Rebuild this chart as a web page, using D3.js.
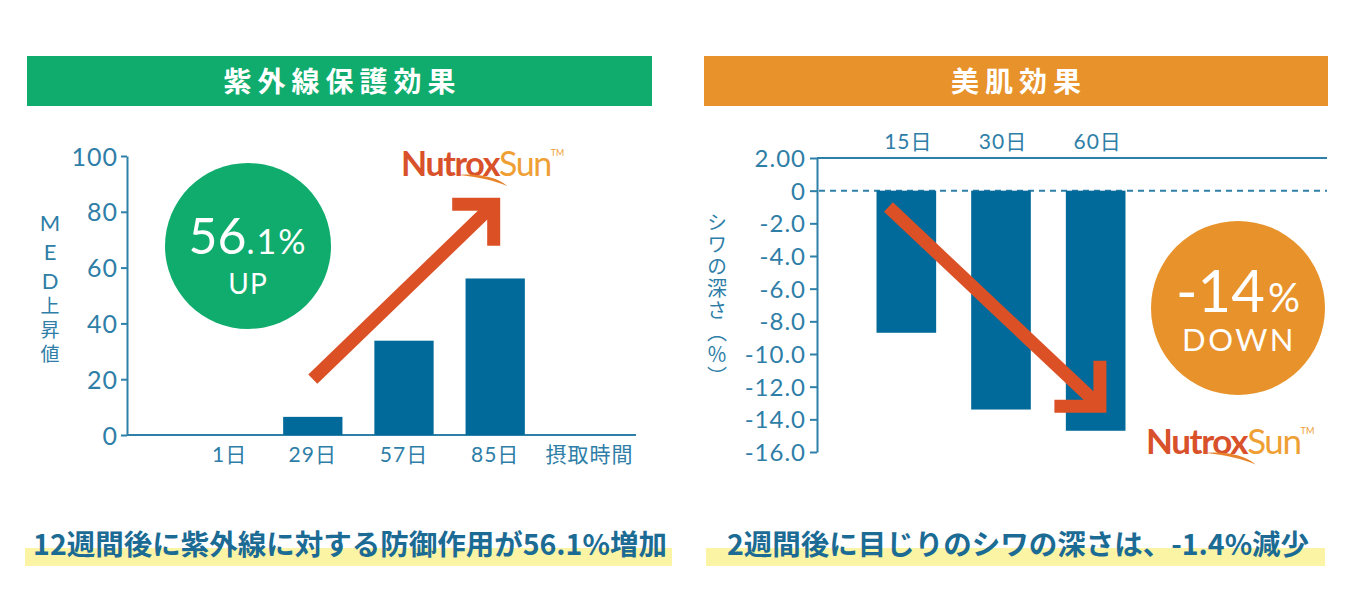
<!DOCTYPE html>
<html><head><meta charset="utf-8">
<script src="https://cdn.jsdelivr.net/npm/d3@7"></script>
<style>
html,body{margin:0;padding:0;background:#fff;}
svg{display:block;}
</style></head>
<body>
<svg id="c" width="1352" height="598"></svg>
<script>
// ---------- data ----------
const leftCategories = ["1日", "29日", "57日", "85日", "摂取時間"];
const leftDays = ["1日", "29日", "57日", "85日"];
const leftValues = [0, 6.5, 33.8, 56.1];
const leftTicks = [0, 20, 40, 60, 80, 100];
const leftTitle = "紫外線保護効果";
const leftAxisLabelLatin = "MED";
const leftAxisLabelJp = "上昇値";
const leftCaption = "12週間後に紫外線に対する防御作用が56.1%増加";

const rightCategories = ["15日", "30日", "60日"];
const rightValues = [-8.7, -13.4, -14.7];
const rightTicks = [2, 0, -2, -4, -6, -8, -10, -12, -14, -16];
const rightTickLabels = ["2.00", "0", "-2.0", "-4.0", "-6.0", "-8.0", "-10.0", "-12.0", "-14.0", "-16.0"];
const rightTitle = "美肌効果";
const rightAxisLabel = "シワの深さ（％）";
const rightCaption = "2週間後に目じりのシワの深さは、-1.4%減少";

// ---------- style ----------
const GREEN = "#10ac6d", ORANGE = "#e8922b", BAR = "#016a9a", AXIS = "#2f80a8",
      TXT = "#2e7ea7", ARROW = "#dc5026", CAP = "#1b6b94", HL = "#fbf4a4";
const NUMFONT = "Lato, 'Noto Sans', sans-serif";
const JPFONT = "'Noto Sans CJK JP', sans-serif";
const MIXFONT = "Lato, 'Noto Sans CJK JP', sans-serif";

const svg = d3.select("#c");

// ---------- headers ----------
function header(x0, x1, color, title) {
  svg.append("rect").attr("x", x0).attr("y", 56).attr("width", x1 - x0).attr("height", 50)
    .attr("fill", color);
  svg.append("text").attr("x", (x0 + x1) / 2 + 3).attr("y", 92).attr("text-anchor", "middle")
    .attr("fill", "#fff").attr("font-family", JPFONT).attr("font-weight", 700)
    .attr("font-size", 28).attr("letter-spacing", 6).text(title);
}
header(27, 652, GREEN, leftTitle);
header(704, 1328, ORANGE, rightTitle);

// ---------- captions ----------
function caption(x0, x1, cx, text, size) {
  svg.append("rect").attr("x", x0).attr("y", 548).attr("width", x1 - x0).attr("height", 18).attr("fill", HL);
  svg.append("text").attr("x", cx).attr("y", 555).attr("text-anchor", "middle")
    .attr("fill", CAP).attr("font-family", JPFONT).attr("font-weight", 700)
    .attr("font-size", size).text(text);
}
caption(25, 672, 350, leftCaption, 28.5);
caption(706, 1325, 1018, rightCaption, 28.5);

// ---------- arrow helper ----------
function upArrow(g, tail, tip, arm, w) {
  const c = [tip[0] - w / 2, tip[1] + w / 2];
  g.append("path").attr("d", `M${tail[0]},${tail[1]}L${c[0]},${c[1]}`)
    .attr("stroke", ARROW).attr("stroke-width", w).attr("fill", "none");
  g.append("path").attr("d", `M${tip[0] - arm},${c[1]}L${c[0]},${c[1]}L${c[0]},${tip[1] + arm}`)
    .attr("stroke", ARROW).attr("stroke-width", w).attr("fill", "none").attr("stroke-linejoin", "miter");
}
function downArrow(g, tail, tip, arm, w) {
  const c = [tip[0] - w / 2, tip[1] - w / 2];
  g.append("path").attr("d", `M${tail[0]},${tail[1]}L${c[0]},${c[1]}`)
    .attr("stroke", ARROW).attr("stroke-width", w).attr("fill", "none");
  g.append("path").attr("d", `M${tip[0] - arm},${c[1]}L${c[0]},${c[1]}L${c[0]},${tip[1] - arm}`)
    .attr("stroke", ARROW).attr("stroke-width", w).attr("fill", "none").attr("stroke-linejoin", "miter");
}

// ---------- logo ----------
function logo(x, y, size) {
  const g = svg.append("g").attr("transform", `translate(${x},${y})`);
  const t = g.append("text").attr("font-family", "Lato, 'Liberation Sans', sans-serif")
    .attr("font-size", size).attr("letter-spacing", -1.4);
  t.append("tspan").attr("fill", "#d8512a").attr("font-weight", 700).text("Nutrox");
  t.append("tspan").attr("fill", "#efa035").attr("font-weight", 400).text("Sun");
  t.append("tspan").attr("fill", "#efa035").attr("font-size", size * 0.26).attr("dy", -size * 0.58)
    .attr("letter-spacing", 0).text("TM");
  const s = size / 30;
  g.append("path")
    .attr("d", `M${50 * s},${-1 * s} Q${80 * s},${-3 * s} ${94 * s},${9 * s} Q${78 * s},${2 * s} ${50 * s},${-1 * s}Z`)
    .attr("fill", "#e8822a");
}

// =============== LEFT CHART ===============
const yL = d3.scaleLinear().domain([0, 100]).range([435, 156]);
const xL = d3.scaleBand().domain(leftCategories).range([176, 632]).paddingInner(0.35).paddingOuter(0.175);
const gL = svg.append("g");

const axL = gL.append("g").attr("transform", "translate(127,0)")
  .call(d3.axisLeft(yL).tickValues(leftTicks).tickSize(6).tickSizeOuter(0).tickPadding(3));
axL.select(".domain").attr("stroke", AXIS).attr("stroke-width", 2);
axL.selectAll(".tick line").attr("stroke", AXIS).attr("stroke-width", 2);
axL.selectAll(".tick text").attr("fill", TXT).attr("font-family", NUMFONT)
  .attr("font-size", 25).attr("letter-spacing", 1).attr("dy", "0.36em");

gL.append("line").attr("x1", 127).attr("x2", 636).attr("y1", yL(0)).attr("y2", yL(0))
  .attr("stroke", AXIS).attr("stroke-width", 2);

gL.selectAll("rect.bar").data(leftDays.map((d, i) => ({ d, v: leftValues[i] })))
  .join("rect").attr("class", "bar")
  .attr("x", d => xL(d.d)).attr("width", xL.bandwidth())
  .attr("y", d => yL(d.v)).attr("height", d => yL(0) - yL(d.v))
  .attr("fill", BAR);

gL.selectAll("text.xl").data(leftCategories).join("text").attr("class", "xl")
  .attr("x", d => xL(d) + xL.bandwidth() / 2 + (d === "1日" ? 8 : 0) + (d === "摂取時間" ? 3 : 0))
  .attr("y", 462).attr("text-anchor", "middle")
  .attr("fill", TXT).attr("font-family", MIXFONT).attr("font-size", 21).attr("letter-spacing", 1)
  .text(d => d);

// y label (vertical, upright)
const yLab = gL.append("text").attr("x", 50).attr("y", 209)
  .style("writing-mode", "vertical-rl").style("text-orientation", "upright")
  .attr("fill", TXT).attr("font-family", "'Noto Sans CJK JP', Lato, sans-serif")
  .attr("font-size", 19).attr("letter-spacing", 5);
yLab.append("tspan").attr("font-family", "Lato, sans-serif").attr("font-size", 22).attr("letter-spacing", 2).text(leftAxisLabelLatin);
yLab.append("tspan").text(leftAxisLabelJp);

upArrow(gL,
  [xL("29日") + xL.bandwidth() / 2, yL(20)],
  [xL("85日") + xL.bandwidth() / 2 + 5, yL(85)], 48, 13);

gL.append("circle").attr("cx", 248).attr("cy", 246).attr("r", 83).attr("fill", GREEN);
const tL = gL.append("text").attr("x", 248).attr("y", 254).attr("text-anchor", "middle")
  .attr("fill", "#fff").attr("font-family", NUMFONT);
tL.append("tspan").attr("font-size", 50).text("56");
tL.append("tspan").attr("font-size", 34).attr("letter-spacing", 2).text(".1%");
gL.append("text").attr("x", 248).attr("y", 294).attr("text-anchor", "middle")
  .attr("fill", "#fff").attr("font-family", NUMFONT).attr("font-size", 28).attr("letter-spacing", 1).text("UP");

logo(401, 176, 34);

// =============== RIGHT CHART ===============
const yR = d3.scaleLinear().domain([2, -16]).range([158, 452]);
const xR = d3.scaleBand().domain(rightCategories).range([859, 1143]).paddingInner(0.37).paddingOuter(0.185);
const gR = svg.append("g");

const axR = gR.append("g").attr("transform", "translate(817,0)")
  .call(d3.axisLeft(yR).tickValues(rightTicks).tickSize(7).tickSizeOuter(0).tickPadding(4)
    .tickFormat((d, i) => rightTickLabels[i]));
axR.select(".domain").attr("stroke", AXIS).attr("stroke-width", 2);
axR.selectAll(".tick line").attr("stroke", AXIS).attr("stroke-width", 2);
axR.selectAll(".tick text").attr("fill", TXT).attr("font-family", NUMFONT)
  .attr("font-size", 24).attr("letter-spacing", 1).attr("dy", "0.36em");

gR.append("line").attr("x1", 817).attr("x2", 1327).attr("y1", yR(2)).attr("y2", yR(2))
  .attr("stroke", AXIS).attr("stroke-width", 2);
gR.append("line").attr("x1", 819).attr("x2", 1327).attr("y1", yR(0)).attr("y2", yR(0))
  .attr("stroke", AXIS).attr("stroke-width", 2).attr("stroke-dasharray", "6,5");

gR.selectAll("rect.bar").data(rightCategories.map((d, i) => ({ d, v: rightValues[i] })))
  .join("rect").attr("class", "bar")
  .attr("x", d => xR(d.d)).attr("width", xR.bandwidth())
  .attr("y", yR(0)).attr("height", d => yR(d.v) - yR(0))
  .attr("fill", BAR);

gR.selectAll("text.xl").data(rightCategories).join("text").attr("class", "xl")
  .attr("x", d => xR(d) + xR.bandwidth() / 2 + 2).attr("y", 149).attr("text-anchor", "middle")
  .attr("fill", TXT).attr("font-family", MIXFONT).attr("font-size", 21).attr("letter-spacing", 1)
  .text(d => d);

gR.append("text").attr("x", 717).attr("y", 212)
  .style("writing-mode", "vertical-rl")
  .attr("fill", TXT).attr("font-family", JPFONT).attr("font-size", 20).attr("letter-spacing", 2)
  .text(rightAxisLabel);

downArrow(gR,
  [xR("15日") + xR.bandwidth() * 0.2, yR(-1)],
  [xR("60日") + xR.bandwidth() * 0.68, yR(-13.6)], 52, 13);

gR.append("circle").attr("cx", 1238).attr("cy", 308).attr("r", 87).attr("fill", ORANGE);
const tR = gR.append("text").attr("x", 1238).attr("y", 312).attr("text-anchor", "middle")
  .attr("fill", "#fff").attr("font-family", NUMFONT);
tR.append("tspan").attr("font-size", 58).text("-14");
tR.append("tspan").attr("font-size", 40).attr("dx", 3).text("%");
gR.append("text").attr("x", 1239).attr("y", 351).attr("text-anchor", "middle")
  .attr("fill", "#fff").attr("font-family", NUMFONT).attr("font-size", 31).attr("letter-spacing", 2.5).text("DOWN");

logo(1146, 454, 35);
</script>
</body></html>
